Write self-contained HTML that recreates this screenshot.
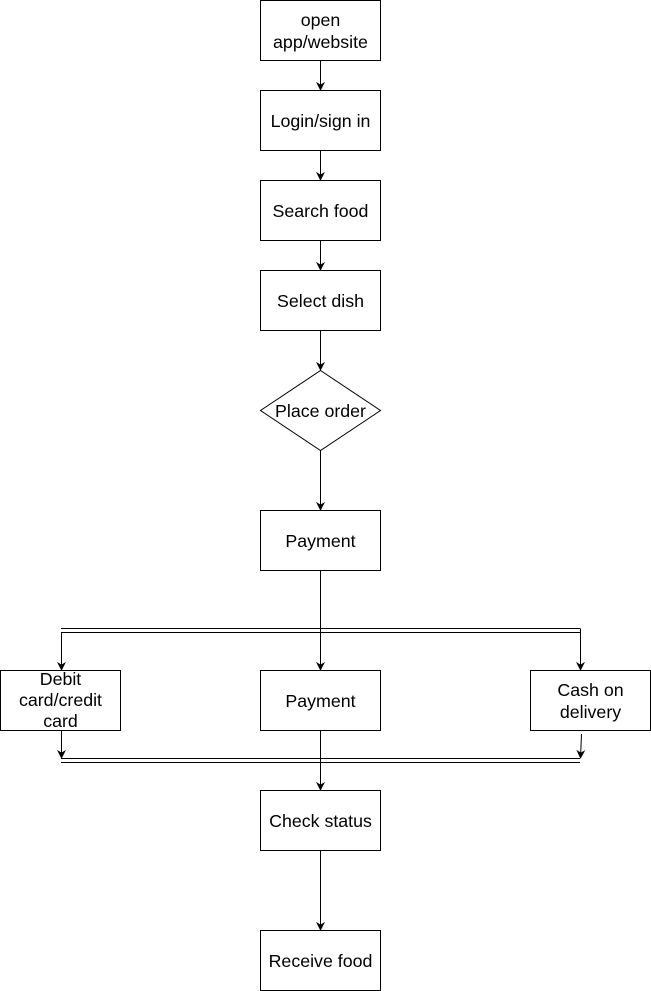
<!DOCTYPE html>
<html><head><meta charset="utf-8"><style>
html,body{margin:0;padding:0;background:#fff;}
svg{display:block;}
text{font-family:"Liberation Sans",Arial,sans-serif;font-size:17.8px;fill:#000;}
</style></head><body>
<svg width="651" height="991" viewBox="0 0 651 991" xmlns="http://www.w3.org/2000/svg">
<defs><marker id="a" viewBox="0 0 10 10" refX="9" refY="5" markerWidth="9" markerHeight="9" markerUnits="userSpaceOnUse" orient="auto"><path d="M0,0 L10,5 L0,10 L3,5 z" fill="#000"/></marker></defs>
<g fill="#fff" stroke="#000" stroke-width="1">
<rect x="260.5" y="0.5" width="120" height="60"/>
<rect x="260.5" y="90.5" width="120" height="60"/>
<rect x="260.5" y="180.5" width="120" height="60"/>
<rect x="260.5" y="270.5" width="120" height="60"/>
<path d="M320.5,370.5 L380.5,410.5 L320.5,450.5 L260.5,410.5 Z"/>
<rect x="260.5" y="510.5" width="120" height="60"/>
<rect x="0.5" y="670.5" width="120" height="60"/>
<rect x="260.5" y="670.5" width="120" height="60"/>
<rect x="530.5" y="670.5" width="120" height="60"/>
<rect x="260.5" y="790.5" width="120" height="60"/>
<rect x="260.5" y="930.5" width="120" height="60"/>
</g>
<g stroke="#000" stroke-width="1" fill="none">
<line x1="320.5" y1="60.5" x2="320.5" y2="90" marker-end="url(#a)"/>
<line x1="320.5" y1="150.5" x2="320.5" y2="180" marker-end="url(#a)"/>
<line x1="320.5" y1="240.5" x2="320.5" y2="270" marker-end="url(#a)"/>
<line x1="320.5" y1="330.5" x2="320.5" y2="370" marker-end="url(#a)"/>
<line x1="320.5" y1="450.5" x2="320.5" y2="510" marker-end="url(#a)"/>
<line x1="320.5" y1="570.5" x2="320.5" y2="670" marker-end="url(#a)"/>
<line x1="61" y1="628.5" x2="580" y2="628.5"/>
<line x1="61" y1="632.5" x2="580" y2="632.5"/>
<line x1="61.5" y1="632.5" x2="61.5" y2="670" marker-end="url(#a)"/>
<line x1="580.5" y1="628.5" x2="580.5" y2="670" marker-end="url(#a)"/>
<line x1="61.5" y1="730.5" x2="61.5" y2="758" marker-end="url(#a)"/>
<line x1="581.5" y1="734" x2="580.5" y2="758" marker-end="url(#a)"/>
<line x1="61" y1="758.5" x2="580" y2="758.5"/>
<line x1="61" y1="762.5" x2="580" y2="762.5"/>
<line x1="320.5" y1="730.5" x2="320.5" y2="790" marker-end="url(#a)"/>
<line x1="320.5" y1="850.5" x2="320.5" y2="930" marker-end="url(#a)"/>
</g>
<g text-anchor="middle">
<text x="320.5" y="26">open</text>
<text x="320.5" y="48">app/website</text>
<text x="320.5" y="127">Login/sign in</text>
<text x="320.5" y="217">Search food</text>
<text x="320.5" y="307">Select dish</text>
<text x="320.5" y="417">Place order</text>
<text x="320.5" y="547">Payment</text>
<text x="60.5" y="685">Debit</text>
<text x="60.5" y="706">card/credit</text>
<text x="60.5" y="727">card</text>
<text x="320.5" y="707">Payment</text>
<text x="590.5" y="696">Cash on</text>
<text x="590.5" y="718">delivery</text>
<text x="320.5" y="827">Check status</text>
<text x="320.5" y="967">Receive food</text>
</g>
</svg>
</body></html>
